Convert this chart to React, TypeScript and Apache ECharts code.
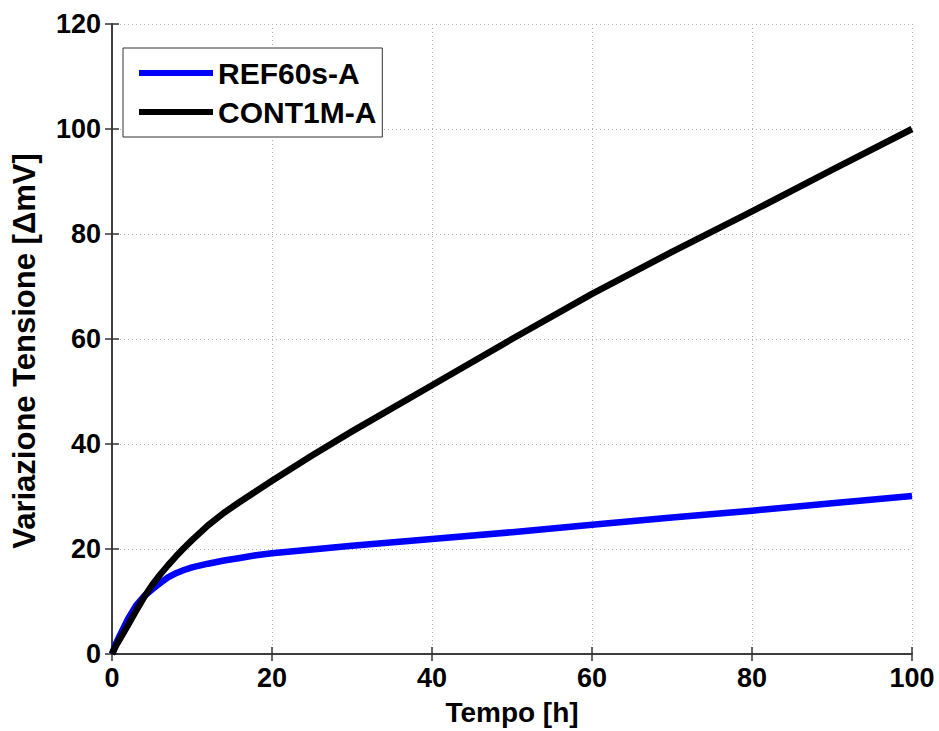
import React, { useEffect, useRef } from "react";
import * as echarts from "echarts";

const seriesNames = ["REF60s-A", "CONT1M-A"];
const times = [0, 0.5, 1, 2, 3, 4, 5, 6, 7, 8, 9, 10, 12, 14, 16, 18, 20, 25, 30, 40, 50, 60, 70, 80, 90, 100];
const ref60sA = [0, 2.0, 3.6, 6.7, 9.2, 11.0, 12.3, 13.5, 14.6, 15.4, 16.0, 16.5, 17.2, 17.8, 18.3, 18.8, 19.2, 19.9, 20.6, 21.9, 23.2, 24.6, 26.0, 27.3, 28.7, 30.1];
const cont1mA = [0, 1.6, 2.9, 5.5, 8.2, 10.8, 13.1, 15.1, 16.9, 18.6, 20.2, 21.7, 24.5, 26.9, 29.0, 31.0, 33.0, 37.8, 42.4, 51.2, 60.0, 68.6, 76.6, 84.3, 92.2, 100.0];
const xTitle = "Tempo [h]";
const yTitle = "Variazione Tensione [ΔmV]";

const FONT = "'Liberation Sans', Arial, sans-serif";

export default function App() {
  const ref = useRef<HTMLDivElement>(null);
  useEffect(() => {
    if (!ref.current) return;
    const chart = echarts.init(ref.current, undefined, { renderer: "svg" });
    const axisLine = { show: true, lineStyle: { color: "#333", width: 1.5 } };
    const tick = { show: true, inside: true, length: 7, lineStyle: { color: "#333", width: 1.5 } };
    const split = { show: true, lineStyle: { color: "#b0b0b0", type: [1, 3] as any, width: 1 } };
    const label = { color: "#000", fontFamily: FONT, fontWeight: "bold" as const, fontSize: 27 };
    chart.setOption({
      animation: false,
      backgroundColor: "#fff",
      grid: { left: 112, right: 27, top: 24, bottom: 77, containLabel: false },
      legend: {
        orient: "vertical",
        left: 123,
        top: 48,
        data: seriesNames,
        icon: "rect",
        itemWidth: 74,
        itemHeight: 6,
        itemGap: 9,
        padding: [10, 6, 10, 16],
        borderColor: "#333",
        borderWidth: 1,
        backgroundColor: "#fff",
        textStyle: { color: "#000", fontFamily: FONT, fontWeight: "bold", fontSize: 30 },
      },
      xAxis: [
        {
          type: "value",
          min: 0,
          max: 100,
          interval: 20,
          position: "bottom",
          axisLine,
          axisTick: tick,
          splitLine: split,
          axisLabel: { ...label, margin: 10 },
          name: xTitle,
          nameLocation: "middle",
          nameGap: 44,
          nameTextStyle: { color: "#000", fontFamily: FONT, fontWeight: "bold", fontSize: 28 },
        },
        {
          type: "value",
          min: 0,
          max: 100,
          interval: 20,
          position: "top",
          axisLine,
          axisTick: tick,
          splitLine: { show: false },
          axisLabel: { show: false },
        },
      ],
      yAxis: [
        {
          type: "value",
          min: 0,
          max: 120,
          interval: 20,
          position: "left",
          axisLine,
          axisTick: tick,
          splitLine: split,
          axisLabel: { ...label, margin: 11 },
          name: yTitle,
          nameLocation: "middle",
          nameGap: 72,
          nameTextStyle: {
            color: "#000",
            fontFamily: FONT,
            fontWeight: "bold",
            fontSize: 31,
            padding: [0, 24, 0, 0],
          },
        },
        {
          type: "value",
          min: 0,
          max: 120,
          interval: 20,
          position: "right",
          axisLine,
          axisTick: tick,
          splitLine: { show: false },
          axisLabel: { show: false },
        },
      ],
      series: [
        {
          name: seriesNames[0],
          type: "line",
          data: times.map((t, i) => [t, ref60sA[i]]),
          showSymbol: false,
          smooth: false,
          lineStyle: { color: "#0000ff", width: 6.5, join: "round" },
          itemStyle: { color: "#0000ff" },
          z: 3,
        },
        {
          name: seriesNames[1],
          type: "line",
          data: times.map((t, i) => [t, cont1mA[i]]),
          showSymbol: false,
          smooth: false,
          lineStyle: { color: "#000000", width: 6.5, join: "round" },
          itemStyle: { color: "#000000" },
          z: 4,
        },
      ],
    });
    return () => chart.dispose();
  }, []);
  return (
    <div
      ref={ref}
      style={{ position: "absolute", left: 0, top: 0, width: 939, height: 731, background: "#fff" }}
    />
  );
}
